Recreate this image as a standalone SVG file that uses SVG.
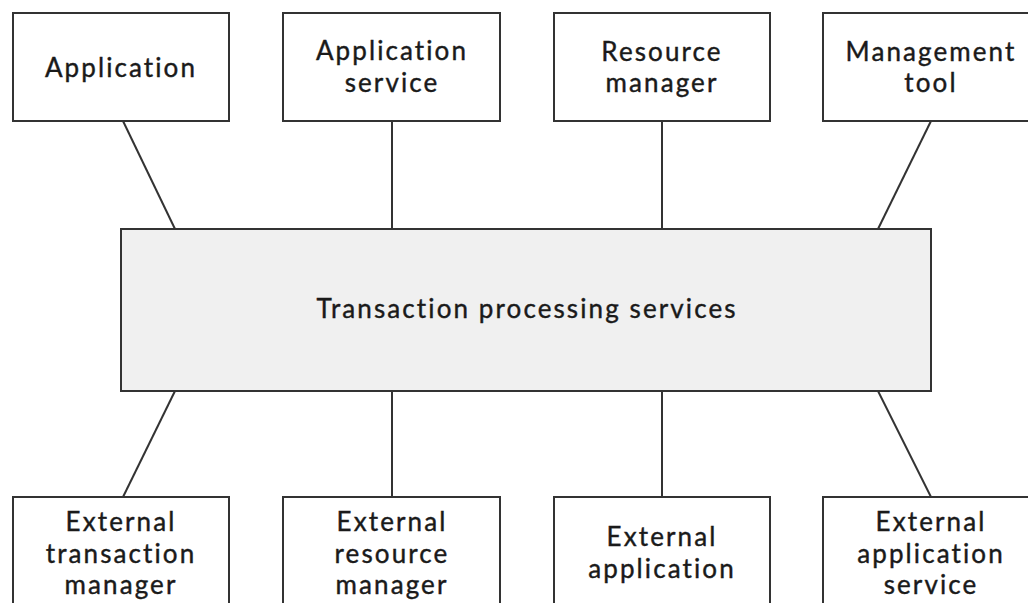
<svg xmlns="http://www.w3.org/2000/svg" width="1028" height="603" viewBox="0 0 1028 603">
<style>
.box{fill:#ffffff;stroke:#333333;stroke-width:2}
.core{fill:#f0f0f0;stroke:#333333;stroke-width:2}
.t{font-family:Lato,"Open Sans",sans-serif;font-size:26px;letter-spacing:2.1px;fill:#1a1a1a;stroke:#1a1a1a;stroke-width:0.4;text-anchor:middle}
.c{stroke:#333333;stroke-width:2;fill:none}
</style>
<rect width="1028" height="603" fill="#ffffff"/>
<g id="connectors">
<line class="c" x1="123" y1="121" x2="175" y2="229"/>
<line class="c" x1="392" y1="121" x2="392" y2="229"/>
<line class="c" x1="662" y1="121" x2="662" y2="229"/>
<line class="c" x1="931" y1="121" x2="878" y2="229"/>
<line class="c" x1="175" y1="391" x2="123" y2="497"/>
<line class="c" x1="392" y1="391" x2="392" y2="497"/>
<line class="c" x1="662" y1="391" x2="662" y2="497"/>
<line class="c" x1="878" y1="391" x2="931" y2="497"/>
</g>
<g id="application">
<rect class="box" x="13" y="13" width="216" height="108"/>
<text class="t" x="121" y="77">Application</text>
</g>
<g id="application-service">
<rect class="box" x="283" y="13" width="217" height="108"/>
<text class="t" x="392" y="60">Application</text>
<text class="t" x="392" y="92">service</text>
</g>
<g id="resource-manager">
<rect class="box" x="554" y="13" width="216" height="108"/>
<text class="t" x="662" y="61">Resource</text>
<text class="t" x="662" y="92">manager</text>
</g>
<g id="management-tool">
<rect class="box" x="823" y="13" width="216" height="108"/>
<text class="t" x="931" y="61">Management</text>
<text class="t" x="931" y="92">tool</text>
</g>
<g id="tp-services">
<rect class="core" x="121" y="229" width="810" height="162"/>
<text class="t" x="527" y="318">Transaction processing services</text>
</g>
<g id="external-transaction-manager">
<rect class="box" x="13" y="497" width="216" height="120"/>
<text class="t" x="121" y="531">External</text>
<text class="t" x="121" y="563">transaction</text>
<text class="t" x="121" y="594">manager</text>
</g>
<g id="external-resource-manager">
<rect class="box" x="283" y="497" width="217" height="120"/>
<text class="t" x="392" y="531">External</text>
<text class="t" x="392" y="563">resource</text>
<text class="t" x="392" y="594">manager</text>
</g>
<g id="external-application">
<rect class="box" x="554" y="497" width="216" height="120"/>
<text class="t" x="662" y="546">External</text>
<text class="t" x="662" y="578">application</text>
</g>
<g id="external-application-service">
<rect class="box" x="823" y="497" width="216" height="120"/>
<text class="t" x="931" y="531">External</text>
<text class="t" x="931" y="563">application</text>
<text class="t" x="931" y="594">service</text>
</g>
</svg>
